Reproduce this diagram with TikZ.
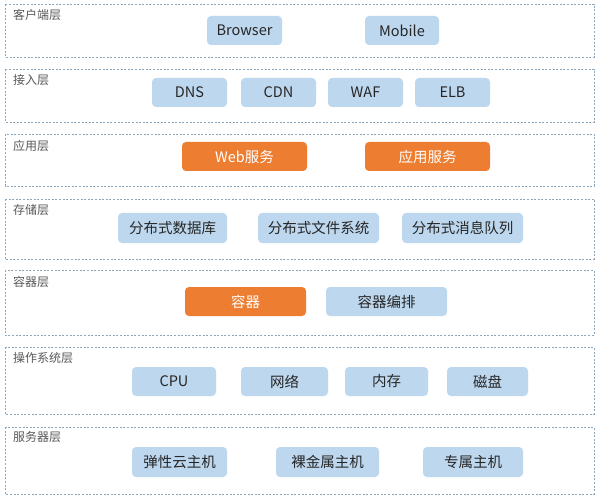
\documentclass[tikz,border=0pt]{standalone}
\usepackage{fontspec}
\setmainfont{Noto Sans CJK SC}
\definecolor{boxblue}{HTML}{BDD7EE}
\definecolor{boxorange}{HTML}{ED7D31}
\definecolor{layerline}{HTML}{8DA6BC}
\definecolor{labelgray}{HTML}{595959}
\definecolor{txtgray}{HTML}{262626}
\begin{document}
\begin{tikzpicture}[x=1bp,y=-1bp,
  layerbox/.style={draw=layerline, line width=0.7bp, dash pattern=on 2bp off 1.6bp},
  layerlabel/.style={anchor=west, inner sep=0pt, text=labelgray, font=\fontsize{12bp}{14bp}\selectfont},
  bluebox/.style={fill=boxblue, rounded corners=4bp, text=txtgray, font=\fontsize{14.5bp}{16bp}\selectfont},
  orangebox/.style={fill=boxorange, rounded corners=4bp, text=white, font=\fontsize{14.5bp}{16bp}\selectfont}]
\useasboundingbox (0,0) rectangle (599,498);
\fill[white] (0,0) rectangle (599,498);
% layers
\draw[layerbox] (5,4) rectangle (594,57);
\draw[layerbox] (5,69) rectangle (594,122);
\draw[layerbox] (5,134) rectangle (594,186);
\draw[layerbox] (5,199) rectangle (594,259);
\draw[layerbox] (5,270) rectangle (594,335);
\draw[layerbox] (5,347) rectangle (594,414);
\draw[layerbox] (5,427) rectangle (594,494);
% labels
\node[layerlabel] (l1) at (13,15) {客户端层};
\node[layerlabel] (l2) at (13,80) {接入层};
\node[layerlabel] (l3) at (13,146) {应用层};
\node[layerlabel] (l4) at (13,210) {存储层};
\node[layerlabel] (l5) at (13,282) {容器层};
\node[layerlabel] (l6) at (13,358) {操作系统层};
\node[layerlabel] (l7) at (13,437) {服务器层};
% macro-free helper: boxes by corners
\path[bluebox] (207,16) rectangle (282,45) node[midway] (browser) {Browser};
\path[bluebox] (365,16) rectangle (439,45) node[midway] (mobile) {Mobile};
\path[bluebox] (152,78) rectangle (227,107) node[midway] (dns) {DNS};
\path[bluebox] (241,78) rectangle (316,107) node[midway] (cdn) {CDN};
\path[bluebox] (328,78) rectangle (403,107) node[midway] (waf) {WAF};
\path[bluebox] (415,78) rectangle (490,107) node[midway] (elb) {ELB};
\path[orangebox] (182,142) rectangle (307,171) node[midway] (web) {Web服务};
\path[orangebox] (365,142) rectangle (490,171) node[midway] (app) {应用服务};
\path[bluebox] (118,213) rectangle (227,243) node[midway] (db) {分布式数据库};
\path[bluebox] (258,213) rectangle (379,243) node[midway] (fs) {分布式文件系统};
\path[bluebox] (402,213) rectangle (523,243) node[midway] (mq) {分布式消息队列};
\path[orangebox] (185,287) rectangle (306,316) node[midway] (ctr) {容器};
\path[bluebox] (326,287) rectangle (447,316) node[midway] (orch) {容器编排};
\path[bluebox] (132,367) rectangle (216,396) node[midway] (cpu) {CPU};
\path[bluebox] (241,367) rectangle (328,396) node[midway] (net) {网络};
\path[bluebox] (345,367) rectangle (428,396) node[midway] (mem) {内存};
\path[bluebox] (447,367) rectangle (528,396) node[midway] (disk) {磁盘};
\path[bluebox] (132,447) rectangle (227,477) node[midway] (ecs) {弹性云主机};
\path[bluebox] (276,447) rectangle (379,477) node[midway] (bm) {裸金属主机};
\path[bluebox] (423,447) rectangle (523,477) node[midway] (ded) {专属主机};
\end{tikzpicture}
\end{document}
